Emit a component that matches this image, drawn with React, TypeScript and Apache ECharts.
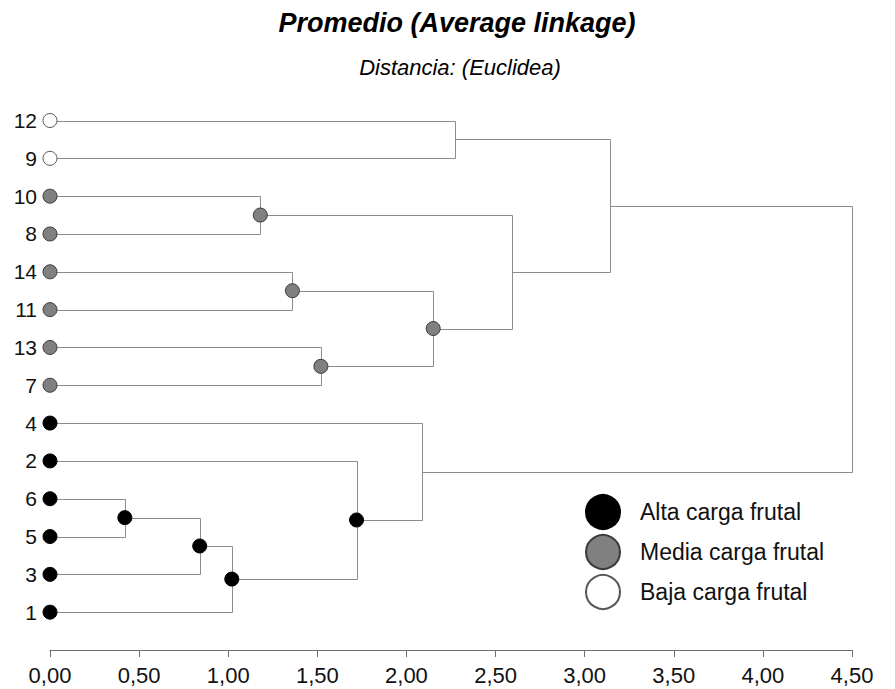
import React, { useEffect, useRef } from 'react';
import * as echarts from 'echarts';

// Leaves from top to bottom and their group
const leaves = ['12', '9', '10', '8', '14', '11', '13', '7', '4', '2', '6', '5', '3', '1'];
const leafGroups = ['Baja', 'Baja', 'Media', 'Media', 'Media', 'Media', 'Media', 'Media', 'Alta', 'Alta', 'Alta', 'Alta', 'Alta', 'Alta'];

// Groups (legend)
const groupKeys = ['Alta', 'Media', 'Baja'];
const groupNames = ['Alta carga frutal', 'Media carga frutal', 'Baja carga frutal'];

// Merges: cluster C(i+1) joins mergeA[i] and mergeB[i] at distance mergeHeight[i]
const mergeA = ['6', 'C1', 'C2', '2', '4', '10', '14', '13', 'C7', 'C6', '12', 'C11', 'C12'];
const mergeB = ['5', '3', '1', 'C3', 'C4', '8', '11', '7', 'C8', 'C9', '9', 'C10', 'C5'];
const mergeHeight = [0.42, 0.84, 1.02, 1.72, 2.09, 1.18, 1.36, 1.52, 2.15, 2.59, 2.27, 3.14, 4.5];
const mergeMarker = ['Alta', 'Alta', 'Alta', 'Alta', null, 'Media', 'Media', 'Media', 'Media', null, null, null, null];

// X axis ticks
const xMin = 0;
const xMax = 4.5;
const xStep = 0.5;

const FONT = '"Liberation Sans", Arial, Helvetica, sans-serif';

export default function App() {
  const ref = useRef<HTMLDivElement>(null);

  useEffect(() => {
    if (!ref.current) return;
    const chart = echarts.init(ref.current, undefined, { renderer: 'svg' });

    const pos: Record<string, { x: number; y: number }> = {};
    leaves.forEach((l, i) => (pos[l] = { x: 0, y: i }));
    const links: number[][] = [];
    const nodes: { group: string | null; x: number; y: number }[] = [];
    mergeA.forEach((a, i) => {
      const b = mergeB[i];
      const pa = pos[a];
      const pb = pos[b];
      const h = mergeHeight[i];
      const y = (pa.y + pb.y) / 2;
      pos['C' + (i + 1)] = { x: h, y };
      links.push([pa.x, pa.y, pb.x, pb.y, h]);
      nodes.push({ group: mergeMarker[i], x: h, y });
    });

    const styles: Record<string, any> = {
      Alta: { color: '#000000', borderColor: '#000000', borderWidth: 1, opacity: 1 },
      Media: { color: '#808080', borderColor: '#3a3a3a', borderWidth: 1, opacity: 1 },
      Baja: { color: '#ffffff', borderColor: '#555555', borderWidth: 1, opacity: 1 },
    };

    const snap = (p: number[]) => [Math.round(p[0]) + 0.5, Math.round(p[1]) + 0.5];

    const scatterSeries = groupKeys.map((g, gi) => {
      const data: number[][] = [];
      leaves.forEach((l, i) => {
        if (leafGroups[i] === g) data.push([0, i]);
      });
      nodes.forEach((n) => {
        if (n.group === g) data.push([n.x, n.y]);
      });
      return {
        name: groupNames[gi],
        type: 'scatter',
        symbol: 'circle',
        symbolSize: 14,
        data,
        itemStyle: styles[g],
        z: 3,
        silent: true,
      };
    });

    chart.setOption({
      animation: false,
      backgroundColor: '#ffffff',
      title: [
        {
          text: 'Promedio (Average linkage)',
          left: 457,
          top: 9,
          textAlign: 'center',
          padding: 0,
          textStyle: { fontFamily: FONT, fontSize: 27, fontWeight: 'bold', fontStyle: 'italic', color: '#000' },
        },
        {
          text: 'Distancia: (Euclidea)',
          left: 460,
          top: 56,
          textAlign: 'center',
          padding: 0,
          textStyle: { fontFamily: FONT, fontSize: 22, fontWeight: 'normal', fontStyle: 'italic', color: '#000' },
        },
      ],
      legend: {
        data: groupNames,
        orient: 'vertical',
        left: 585,
        top: 494,
        padding: 0,
        icon: 'circle',
        itemWidth: 34,
        itemHeight: 34,
        itemGap: 4,
        selectedMode: false,
        itemStyle: { opacity: 1 },
        textStyle: { fontFamily: FONT, fontSize: 23, color: '#111', padding: [0, 0, 0, 15] },
      },
      grid: { left: 50, right: 43, top: 82.7, bottom: 39, containLabel: false },
      xAxis: {
        type: 'value',
        position: 'bottom',
        min: xMin,
        max: xMax,
        interval: xStep,
        splitLine: { show: false },
        axisLine: { show: true, onZero: false, lineStyle: { color: '#707070', width: 1 } },
        axisTick: { show: true, length: 7, lineStyle: { color: '#707070' } },
        axisLabel: {
          margin: 14,
          fontFamily: FONT,
          fontSize: 22,
          color: '#111',
          formatter: (v: number) => v.toFixed(2).replace('.', ','),
        },
      },
      yAxis: {
        type: 'value',
        inverse: true,
        min: -1,
        max: leaves.length,
        interval: 1,
        splitLine: { show: false },
        axisLine: { show: false },
        axisTick: { show: false },
        axisLabel: {
          margin: 13,
          fontFamily: FONT,
          fontSize: 21,
          color: '#111',
          formatter: (v: number) => (v >= 0 && v < leaves.length ? leaves[v] : ''),
        },
      },
      series: [
        {
          type: 'custom',
          name: 'links',
          coordinateSystem: 'cartesian2d',
          encode: { x: [0, 2, 4], y: [1, 3] },
          data: links,
          z: 2,
          silent: true,
          renderItem: (params: any, api: any) => {
            const a = api.coord([api.value(0), api.value(1)]);
            const b = api.coord([api.value(2), api.value(3)]);
            const ha = api.coord([api.value(4), api.value(1)]);
            const hb = api.coord([api.value(4), api.value(3)]);
            return {
              type: 'polyline',
              shape: { points: [snap(a), snap(ha), snap(hb), snap(b)] },
              style: { stroke: '#8c8c8c', fill: 'none', lineWidth: 1 },
            };
          },
        },
        ...scatterSeries,
      ],
    });

    return () => chart.dispose();
  }, []);

  return (
    <div
      ref={ref}
      style={{ position: 'absolute', left: 0, top: 0, width: 895, height: 689, background: '#fff' }}
    />
  );
}
